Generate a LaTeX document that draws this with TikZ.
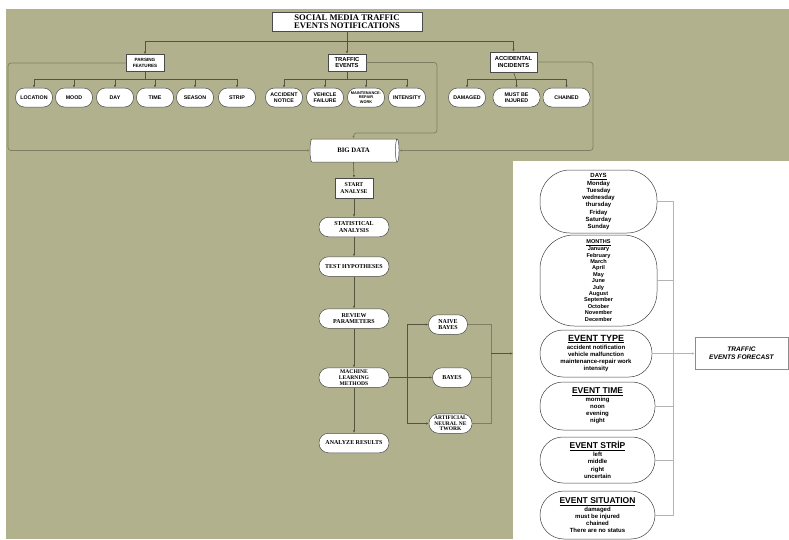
\documentclass[tikz,border=0pt]{standalone}
\usepackage{fontspec}
\setmainfont{Liberation Serif}
\setsansfont{Liberation Sans}
\usetikzlibrary{shapes.geometric,shapes.misc,arrows.meta}
\definecolor{olivebg}{HTML}{B1B28D}
\definecolor{lineol}{HTML}{55553F}
\definecolor{frameol}{HTML}{7E7F62}
\definecolor{panelline}{HTML}{B4B4B4}
\definecolor{nodeborder}{HTML}{4A4A4A}
\begin{document}
\begin{tikzpicture}[x=1pt,y=-1pt,
  conn/.style={draw=lineol, line width=0.6pt},
  arr/.style={conn, -{Latex[length=2.6pt,width=2.2pt]}},
  fb/.style={draw=frameol, line width=0.7pt, rounded corners=3pt},
  fbarr/.style={fb, -{Latex[length=2.6pt,width=2.2pt,fill=lineol]}},
  pl/.style={draw=panelline, line width=0.6pt},
  plarr/.style={pl, -{Latex[length=2.6pt,width=2.2pt,fill=black!80]}},
  titlebox/.style={draw=nodeborder, fill=white, line width=0.5pt, minimum width=150pt, minimum height=19pt, inner sep=0pt, align=center, font=\fontsize{8.6}{8.2}\selectfont\bfseries},
  catbox/.style={draw=nodeborder, fill=white, line width=0.5pt, minimum width=38pt, minimum height=17pt, inner sep=0pt, align=center, font=\sffamily\bfseries\fontsize{5.8}{6.6}\selectfont},
  leaf/.style={draw=nodeborder, fill=white, line width=0.5pt, rounded corners=9pt, minimum width=37pt, minimum height=19pt, inner sep=0pt, align=center, font=\sffamily\bfseries\fontsize{5.3}{5.9}\selectfont},
  flowsq/.style={draw=nodeborder, fill=white, line width=0.5pt, minimum width=38pt, minimum height=20pt, inner sep=0pt, align=center, font=\bfseries\fontsize{5.8}{6.4}\selectfont},
  flowrd/.style={draw=nodeborder, fill=white, line width=0.5pt, rounded corners=9.5pt, minimum width=70pt, minimum height=19.5pt, inner sep=0pt, align=center, font=\bfseries\fontsize{6}{6.6}\selectfont},
  mlrd/.style={flowrd, minimum width=39pt},
  pan/.style={draw=black!75, fill=white, line width=0.5pt, inner sep=0pt, align=center, font=\sffamily\bfseries\fontsize{6}{7.2}\selectfont}
]
\useasboundingbox (0,0) rectangle (789,539);
\fill[white] (0,0) rectangle (789,539);
\fill[olivebg] (6,9) rectangle (789,539);
\fill[white] (513,161) rectangle (789,539);

% title and categories
\node[titlebox] (title) at (347,21.5) {SOCIAL MEDIA TRAFFIC\\EVENTS NOTIFICATIONS};
\node[catbox, font=\sffamily\bfseries\fontsize{4.6}{5.4}\selectfont] (pf) at (145,63) {PARSING\\FEATURES};
\node[catbox] (te) at (347,62.5) {TRAFFIC\\EVENTS};
\node[catbox, minimum width=47pt, minimum height=20pt] (ai) at (513.5,62) {ACCIDENTAL\\INCIDENTS};

\coordinate (j0) at (347,41);
\draw[conn] (title.south) -- (j0);
\draw[arr] (j0) -| (pf.north);
\draw[arr] (j0) -- (te.north);
\draw[arr] (j0) -| (ai.north);

% parsing features leaves
\node[leaf] (loc) at (34,97.5) {LOCATION};
\node[leaf] (mood) at (74,97.5) {MOOD};
\node[leaf] (day) at (115,97.5) {DAY};
\node[leaf] (time) at (155,97.5) {TIME};
\node[leaf] (season) at (195,97.5) {SEASON};
\node[leaf] (strip) at (237,97.5) {STRIP};
\coordinate (jp) at (145,79);
\draw[conn] (pf.south) -- (jp);
\foreach \n in {loc,mood,day,time,season,strip} \draw[arr] (jp) -| (\n.north);

% traffic events leaves
\node[leaf] (acc) at (284,97.5) {ACCIDENT\\NOTICE};
\node[leaf] (veh) at (325,97.5) {VEHICLE\\FAILURE};
\node[leaf, font=\sffamily\bfseries\fontsize{3.9}{4.3}\selectfont] (mnt) at (366,97.5) {MAINTENANCE-\\REPAIR\\WORK};
\node[leaf] (int) at (407,97.5) {INTENSITY};
\coordinate (jt) at (347,79);
\draw[conn] (te.south) -- (jt);
\foreach \n in {acc,veh,mnt,int} \draw[arr] (jt) -| (\n.north);

% accidental leaves
\node[leaf] (dam) at (467,97.5) {DAMAGED};
\node[leaf, minimum width=47pt] (inj) at (516.5,97.5) {MUST BE\\INJURED};
\node[leaf, minimum width=47pt] (cha) at (566.5,97.5) {CHAINED};
\coordinate (ja) at (516,79);
\draw[conn] (ai.south) -- (ja);
\foreach \n in {dam,inj,cha} \draw[arr] (ja) -| (\n.north);

% big data
\node[cylinder, draw=nodeborder, fill=white, line width=0.5pt, minimum width=23pt, minimum height=89pt, aspect=0.8, inner sep=0pt, font=\bfseries\fontsize{6.8}{7}\selectfont] (bd) at (353.5,150.5) {BIG DATA};

% feedback frames
\draw[fbarr] (pf.west) -| (8,150.5) -- (bd.west);
\draw[fbarr] (te.east) -| (437,133) -| (bd.north);
\draw[fbarr] (ai.east) -| (593,150.5) -- (bd.east);

% flow
\node[flowsq] (sa) at (354,188) {START\\ANALYSE};
\node[flowrd] (st) at (354,227) {STATISTICAL\\ANALYSIS};
\node[flowrd] (th) at (354,266.5) {TEST HYPOTHESES};
\node[flowrd] (rp) at (354,318.5) {REVIEW\\PARAMETERS};
\node[flowrd, font=\bfseries\fontsize{5.6}{5.8}\selectfont] (ml) at (354,377.5) {MACHINE\\LEARNING\\METHODS};
\node[flowrd] (ar) at (354,443) {ANALYZE RESULTS};
\draw[arr] (bd.south) -- (sa.north);
\draw[arr] (sa.south) -- (st.north);
\draw[arr] (st.south) -- (th.north);
\draw[arr] (th.south) -- (rp.north);
\draw[arr] (rp.south) -- (ml.north);
\draw[arr] (ml.south) -- (ar.north);

% ML methods
\node[mlrd] (nb) at (448,324.5) {NAIVE\\BAYES};
\node[mlrd] (by) at (452,377.5) {BAYES};
\node[mlrd, minimum width=43pt, font=\bfseries\fontsize{5.5}{5.6}\selectfont] (ann) at (450.5,423.5) {ARTIFICIAL\\NEURAL NE\\TWORK};
\coordinate (mj) at (407,377.5);
\draw[conn] (ml.east) -- (mj);
\draw[arr] (mj) |- (nb.west);
\draw[arr] (mj) -- (by.west);
\draw[arr] (mj) |- (ann.west);
\coordinate (mk) at (491,353.5);
\draw[conn, draw=frameol] (nb.east) -| (mk);
\draw[conn, draw=frameol] (by.east) -| (mk);
\draw[conn, draw=frameol] (ann.east) -| (mk);
\coordinate (pe) at (513,353.5);
\draw[arr] (mk) -- (pe);

% right panel
\node[pan, rounded corners=30pt, minimum width=117pt, minimum height=63pt] (days) at (598.5,201.5)
  {\underline{DAYS}\\[0.6pt]Monday\\Tuesday\\wednesday\\thursday\\Friday\\Saturday\\Sunday};
\node[pan, rounded corners=34pt, minimum width=117pt, minimum height=91pt, font=\sffamily\bfseries\fontsize{5.6}{6.4}\selectfont] (months) at (598.5,280.5)
  {\underline{MONTHS}\\[0.6pt]January\\February\\March\\April\\May\\June\\July\\August\\September\\October\\November\\December};
\node[pan, rounded corners=23pt, minimum width=112pt, minimum height=47pt] (etype) at (596,353.5)
  {{\fontsize{9}{9}\selectfont\underline{EVENT TYPE}}\\[0.6pt]accident notification\\vehicle malfunction\\maintenance-repair work\\intensity};
\node[pan, rounded corners=23pt, minimum width=115pt, minimum height=48pt] (etime) at (597.5,406)
  {{\fontsize{8.5}{9}\selectfont\underline{EVENT TIME}}\\[0.6pt]morning\\noon\\evening\\night};
\node[pan, rounded corners=23pt, minimum width=115pt, minimum height=46pt] (estrip) at (597.5,460)
  {{\fontsize{8.5}{9}\selectfont\underline{EVENT STRİP}}\\[0.6pt]left\\middle\\right\\uncertain};
\node[pan, rounded corners=24pt, minimum width=115pt, minimum height=48pt] (esit) at (597.5,515)
  {{\fontsize{8.5}{9}\selectfont\underline{EVENT SITUATION}}\\[0.6pt]damaged\\must be injured\\chained\\There are no status};
\node[draw=black!45, fill=white, line width=0.5pt, minimum width=93pt, minimum height=32pt, inner sep=0pt, align=center, font=\sffamily\bfseries\itshape\fontsize{6.6}{7.6}\selectfont] (tef) at (741.5,353.5) {TRAFFIC\\EVENTS FORECAST};
\coordinate (pv) at (673,353.5);
\foreach \n in {days,months,etype,etime,estrip,esit} \draw[pl] (\n.east) -| (pv);
\draw[plarr] (pv) -- (tef.west);
\end{tikzpicture}
\end{document}
